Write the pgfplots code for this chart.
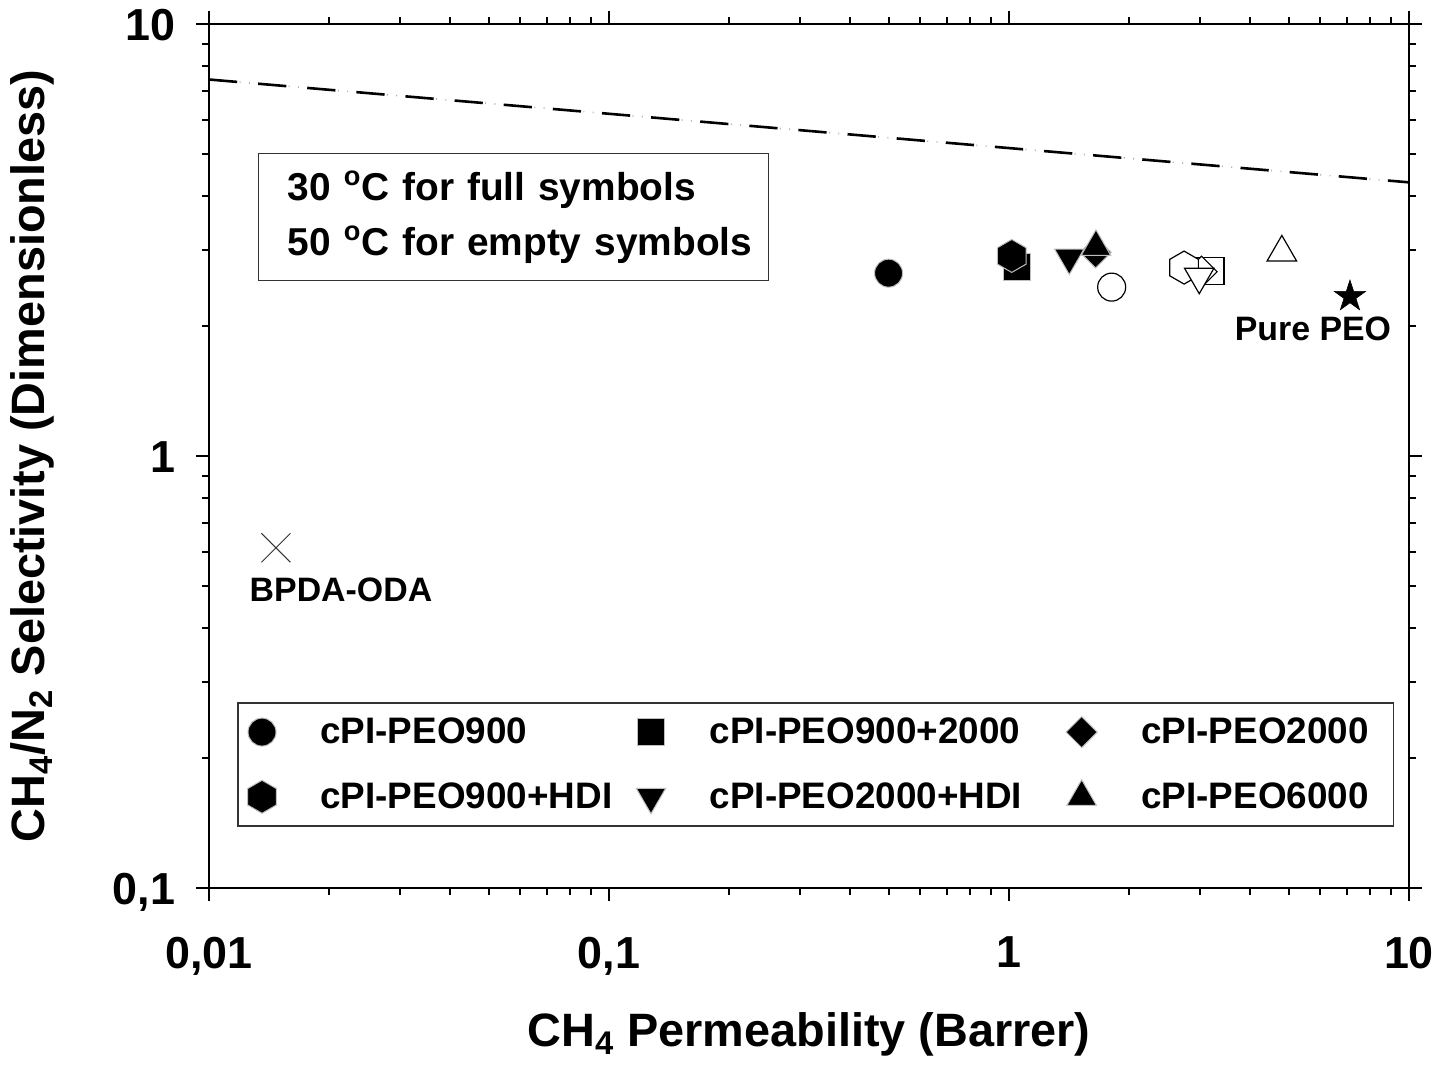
\documentclass[border=0pt]{standalone}
\usepackage{fontspec}
\setmainfont{Liberation Sans}
\usepackage{pgfplots}
\pgfplotsset{compat=1.18}

% pointy-top hexagon mark
\pgfdeclareplotmark{hexagon}{%
  \pgfpathmoveto{\pgfpointpolar{90}{\pgfplotmarksize}}%
  \pgfpathlineto{\pgfpointpolar{150}{\pgfplotmarksize}}%
  \pgfpathlineto{\pgfpointpolar{210}{\pgfplotmarksize}}%
  \pgfpathlineto{\pgfpointpolar{270}{\pgfplotmarksize}}%
  \pgfpathlineto{\pgfpointpolar{330}{\pgfplotmarksize}}%
  \pgfpathlineto{\pgfpointpolar{30}{\pgfplotmarksize}}%
  \pgfpathclose
  \pgfusepathqfillstroke}
% filled five-pointed star mark
\pgfdeclareplotmark{fivestar}{%
  \pgfpathmoveto{\pgfpointpolar{90}{\pgfplotmarksize}}%
  \pgfpathlineto{\pgfpointpolar{126}{0.382\pgfplotmarksize}}%
  \pgfpathlineto{\pgfpointpolar{162}{\pgfplotmarksize}}%
  \pgfpathlineto{\pgfpointpolar{198}{0.382\pgfplotmarksize}}%
  \pgfpathlineto{\pgfpointpolar{234}{\pgfplotmarksize}}%
  \pgfpathlineto{\pgfpointpolar{270}{0.382\pgfplotmarksize}}%
  \pgfpathlineto{\pgfpointpolar{306}{\pgfplotmarksize}}%
  \pgfpathlineto{\pgfpointpolar{342}{0.382\pgfplotmarksize}}%
  \pgfpathlineto{\pgfpointpolar{18}{\pgfplotmarksize}}%
  \pgfpathlineto{\pgfpointpolar{54}{0.382\pgfplotmarksize}}%
  \pgfpathclose
  \pgfusepathqfillstroke}

\pgfplotsset{
  mk/.style={black, only marks,
    legend image code/.code={%
      \draw[mark repeat=2, mark phase=2, ##1] plot coordinates {(0bp,0bp) (7.5bp,0bp) (15bp,0bp)};}},
  fullsym/.style={mk, mark options={fill=black, draw=gray!50, line width=0.5bp, #1}},
  fullsym/.default={},
  emptysym/.style={mk, forget plot, mark options={fill=white, draw=black, line width=0.6bp, #1}},
  emptysym/.default={},
}

\begin{document}
\begin{tikzpicture}
\path[use as bounding box] (-104.5bp,-88.5bp) rectangle (614.5bp,444bp);
\begin{axis}[
  at={(0,0)}, anchor=south west,
  scale only axis, width=600bp, height=432bp,
  xmode=log, ymode=log,
  xmin=0.01, xmax=10, ymin=0.1, ymax=10,
  axis line style={line width=1bp},
  tick style={line width=1bp, black},
  tick align=outside,
  major tick length=6.5bp, minor tick length=3.5bp,
  xtick={0.01,0.1,1,10}, xticklabels={{0,01},{0,1},1,10},
  ytick={0.1,1,10}, yticklabels={{0,1},1,10},
  minor xtick={0.02,0.03,0.04,0.05,0.06,0.07,0.08,0.09,0.2,0.3,0.4,0.5,0.6,0.7,0.8,0.9,2,3,4,5,6,7,8,9},
  minor ytick={0.2,0.3,0.4,0.5,0.6,0.7,0.8,0.9,2,3,4,5,6,7,8,9},
  ticklabel style={font=\fontsize{22.5}{22.5}\selectfont\bfseries},
  xticklabel style={yshift=-14.5bp},
  yticklabel style={anchor=base east, xshift=-7bp, yshift=-8bp},
  xlabel={CH\textsubscript{4} Permeability (Barrer)},
  ylabel={CH\textsubscript{4}/N\textsubscript{2} Selectivity (Dimensionless)},
  label style={font=\fontsize{23.5}{23.5}\selectfont\bfseries},
  xlabel style={at={(axis description cs:0.5,-0.184)}, anchor=base},
  ylabel style={at={(axis description cs:-0.1367,0.5)}, anchor=base},
  legend columns=3,
  legend cell align=left,
  legend style={at={(axis description cs:0.02333,0.2153)}, anchor=north west,
    draw=black!80, line width=0.8bp, inner xsep=5pt, inner ysep=5.5pt,
    row sep=14bp,
    font=\fontsize{18.5}{18.5}\selectfont\bfseries,
    /tikz/every odd column/.append style={column sep=20bp},
    /tikz/every even column/.append style={column sep=10bp}},
  clip=false,
]
% upper bound line: long dashes with faint dots between them
\addplot[forget plot, black, line width=1.3bp, dash pattern=on 14.15bp off 10.5bp]
  coordinates {(0.01,7.44) (10,4.30)};
\addplot[forget plot, gray!60, line width=0.8bp,
  dash pattern=on 0.5bp off 4.15bp on 0.5bp off 19.5bp, dash phase=9.3bp]
  coordinates {(0.01,7.44) (10,4.30)};

% 30 C (full symbols)
\addplot[fullsym, mark=*, mark size=7bp] coordinates {(0.50,2.65)};
\addlegendentry{cPI-PEO900}
\addplot[fullsym, mark=square*, mark size=6.75bp] coordinates {(1.047,2.74)};
\addlegendentry{cPI-PEO900+2000\hspace*{10bp}}
\addplot[fullsym={rotate=45}, mark=square*, mark size=5.5bp] coordinates {(1.647,2.96)};
\addlegendentry{cPI-PEO2000\hspace*{5.5bp}}
\addplot[fullsym, mark=hexagon, mark size=8.25bp] coordinates {(1.016,2.905)};
\addlegendentry{cPI-PEO900+HDI}
\addplot[fullsym={rotate=180}, mark=triangle*, mark size=8.5bp] coordinates {(1.415,2.88)};
\addlegendentry{cPI-PEO2000+HDI\hspace*{10bp}}
\addplot[fullsym, mark=triangle*, mark size=8.5bp] coordinates {(1.65,3.05)};
\addlegendentry{cPI-PEO6000\hspace*{5.5bp}}

% 50 C (empty symbols)
\addplot[emptysym, mark=*, mark size=7bp] coordinates {(1.806,2.46)};
\addplot[emptysym, mark=square*, mark size=6.75bp] coordinates {(3.19,2.68)};
\addplot[emptysym={rotate=45}, mark=square*, mark size=5.5bp] coordinates {(3.03,2.67)};
\addplot[emptysym, mark=hexagon, mark size=8.25bp] coordinates {(2.74,2.73)};
\addplot[emptysym={rotate=180}, mark=triangle*, mark size=8.5bp] coordinates {(2.99,2.60)};
\addplot[emptysym, mark=triangle*, mark size=8.5bp] coordinates {(4.81,2.96)};

% reference materials
\addplot[forget plot, black, only marks, mark=fivestar, mark size=8.2bp, mark options={fill=black, draw=black, line width=0.3bp}] coordinates {(7.12,2.34)};
\addplot[forget plot, black, only marks, mark=x, mark size=10.25bp, mark options={draw=black!80, line width=0.5bp}] coordinates {(0.0147,0.613)};

\node[font=\fontsize{17}{17}\selectfont\bfseries] at (axis cs:5.754,1.966) {Pure PEO};
\node[font=\fontsize{17}{17}\selectfont\bfseries] at (axis cs:0.02138,0.490) {BPDA-ODA};

\node[draw=black!80, line width=0.7bp, anchor=north west, inner xsep=14.5bp, inner ysep=0pt,
  text width=226bp, minimum height=63.5bp, align=left,
  font=\fontsize{19.5}{28}\selectfont\bfseries]
  at (axis description cs:0.0408,0.8507)
  {\mbox{30 \textsuperscript{o}C for full symbols}\\\mbox{50 \textsuperscript{o}C for empty symbols}};
\end{axis}
\end{tikzpicture}
\end{document}
